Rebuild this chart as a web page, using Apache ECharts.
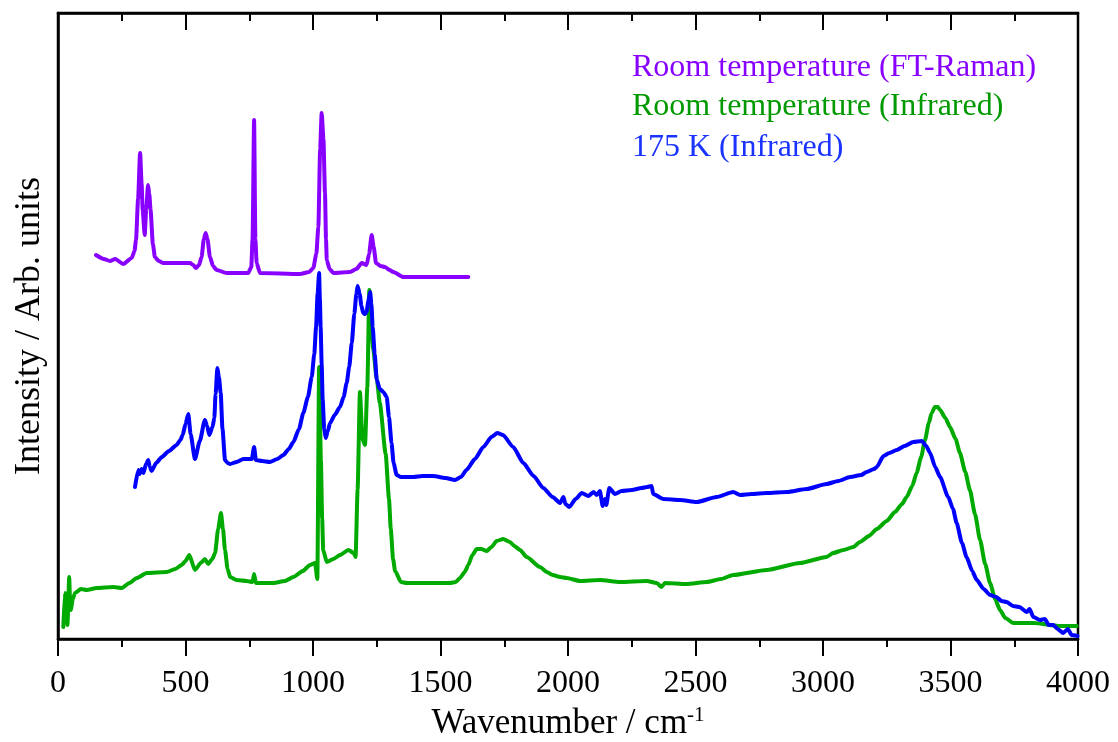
<!DOCTYPE html>
<html>
<head>
<meta charset="utf-8">
<script src="https://cdn.jsdelivr.net/npm/echarts@6/dist/echarts.min.js"></script>
<style>
html, body { margin: 0; padding: 0; background: #fff; }
#main { width: 1118px; height: 742px; }
</style>
</head>
<body>
<div id="main"></div>
<script>
// x ticks
var xTicks = [0, 500, 1000, 1500, 2000, 2500, 3000, 3500, 4000];

// legend texts
var seriesNames = ['Room temperature (FT-Raman)', 'Room temperature (Infrared)', '175 K (Infrared)'];

// [wavenumber, intensity]
var ramanData = [[149,384],[180,380],[204,378],[224,380],[256,375],[289,381],[300,388],[306,399],[314,440],[322,486],[328,455],[332,429],[340,404],[346,430],[353,454],[358,445],[363,429],[372,395],[380,382],[395,378],[413,376],[518,376],[530,374],[541,371],[553,374],[563,382],[572,400],[579,406],[586,400],[596,382],[608,373],[622,369],[661,366],[746,366],[758,372],[763,400],[769,519],[774,400],[779,376],[792,366],[949,365],[985,367],[1001,371],[1013,385],[1021,412],[1028,490],[1034,526],[1041,500],[1047,446],[1051,400],[1054,379],[1065,370],[1080,366],[1145,367],[1170,370],[1191,376],[1210,374],[1220,385],[1230,404],[1238,392],[1247,376],[1265,373],[1282,372],[1300,369],[1315,367],[1354,362],[1609,362]];

var irRoomData = [[21,12],[27,46],[33,20],[37,14],[44,62],[47,40],[50,29],[58,40],[67,46],[90,50],[113,49],[152,51],[217,52],[250,51],[280,56],[309,61],[348,66],[426,67],[460,70],[485,74],[500,78],[515,84],[537,69],[560,76],[576,80],[589,75],[605,80],[616,86],[628,110],[639,126],[647,110],[655,89],[665,70],[675,62],[700,59],[740,58],[763,57],[769,65],[776,56],[844,56],[890,58],[923,62],[960,68],[988,74],[1008,76],[1017,60],[1024,272],[1031,179],[1036,120],[1040,89],[1054,77],[1080,80],[1106,84],[1139,89],[1160,86],[1167,82],[1175,150],[1184,247],[1194,200],[1204,194],[1213,252],[1221,349],[1236,290],[1250,260],[1262,236],[1285,185],[1298,140],[1305,110],[1314,80],[1322,68],[1345,57],[1367,56],[1420,56],[1537,56],[1560,57],[1576,61],[1595,67],[1609,74],[1625,84],[1642,90],[1660,90],[1681,88],[1700,92],[1720,98],[1746,100],[1772,97],[1790,93],[1812,89],[1838,82],[1890,72],[1917,67],[1940,64],[1969,62],[1995,61],[2047,58],[2125,59],[2204,57],[2309,58],[2348,56],[2367,52],[2380,56],[2465,55],[2544,57],[2600,60],[2648,64],[2779,69],[2910,76],[3014,82],[3040,86],[3080,89],[3119,92],[3145,97],[3180,103],[3211,110],[3250,118],[3282,127],[3310,135],[3328,142],[3350,153],[3367,166],[3385,182],[3400,199],[3415,216],[3426,226],[3439,232],[3450,232],[3459,229],[3480,221],[3498,212],[3520,200],[3537,186],[3558,167],[3576,149],[3596,125],[3616,99],[3636,75],[3655,56],[3675,40],[3694,29],[3715,21],[3746,16],[3825,16],[3929,13],[3995,13]];

var ir175Data = [[302,152],[315,169],[320,165],[328,170],[335,166],[345,175],[354,179],[360,172],[367,168],[385,176],[407,182],[435,188],[465,194],[480,199],[489,204],[500,215],[511,225],[520,205],[537,180],[556,198],[576,219],[585,213],[593,204],[606,212],[613,221],[618,245],[625,271],[631,262],[638,246],[645,210],[655,179],[665,176],[675,175],[700,177],[727,180],[760,180],[769,192],[776,179],[800,178],[831,177],[860,180],[884,184],[905,190],[923,197],[945,210],[962,226],[980,242],[995,262],[1005,285],[1012,312],[1018,345],[1024,366],[1027,340],[1030,312],[1034,275],[1038,239],[1044,210],[1050,201],[1058,208],[1067,216],[1085,224],[1106,232],[1120,242],[1132,256],[1142,272],[1152,296],[1162,325],[1170,345],[1175,353],[1183,345],[1190,333],[1197,326],[1204,325],[1210,327],[1217,338],[1224,347],[1229,335],[1234,312],[1242,285],[1250,259],[1262,250],[1276,247],[1289,242],[1298,222],[1308,196],[1316,176],[1328,164],[1345,162],[1393,162],[1430,163],[1471,163],[1520,161],[1557,159],[1580,162],[1602,169],[1635,180],[1668,192],[1700,202],[1723,206],[1745,204],[1785,192],[1825,176],[1865,163],[1903,151],[1940,142],[1969,136],[1982,142],[1990,135],[2005,132],[2030,140],[2054,146],[2080,143],[2100,147],[2113,144],[2125,148],[2136,133],[2145,140],[2150,134],[2162,151],[2184,145],[2210,148],[2250,149],[2289,151],[2310,152],[2328,153],[2334,145],[2374,140],[2439,139],[2505,137],[2583,142],[2648,147],[2675,144],[2720,145],[2779,146],[2858,147],[2936,150],[3014,155],[3060,158],[3106,162],[3150,164],[3171,167],[3200,170],[3211,172],[3237,183],[3260,186],[3289,189],[3320,193],[3354,197],[3387,198],[3405,193],[3420,186],[3440,172],[3459,162],[3491,142],[3510,130],[3524,116],[3545,96],[3563,82],[3585,68],[3603,59],[3630,50],[3655,44],[3680,42],[3700,38],[3720,37],[3745,33],[3770,32],[3799,27],[3810,30],[3825,22],[3851,19],[3870,20],[3885,14],[3903,14],[3920,10],[3942,6],[3960,10],[3975,4],[3998,3]];

var colRaman = '#8800ff', colRoom = '#00aa00', col175 = '#0000ff';
var FONT = '"Liberation Serif", "Times New Roman", serif';

var chart = echarts.init(document.getElementById('main'));

function lineSeries(name, data, color) {
    return {
        name: name,
        type: 'line',
        data: data,
        showSymbol: false,
        symbol: 'none',
        smooth: 0.2,
        smoothMonotone: 'x',
        animation: false,
        lineStyle: { color: color, width: 4, join: 'round', cap: 'round' },
        itemStyle: { color: color }
    };
}

var option = {
    backgroundColor: '#fff',
    animation: false,
    grid: {
        left: 58, right: 40, top: 13, bottom: 103,
        outerBoundsMode: 'none',
        show: true, borderColor: '#000', borderWidth: 2.5, backgroundColor: 'transparent'
    },
    xAxis: [{
        type: 'value',
        position: 'bottom',
        min: xTicks[0],
        max: xTicks[xTicks.length - 1],
        interval: 500,
        name: '{a|Wavenumber / cm}{b|-1}',
        nameLocation: 'middle',
        nameGap: 59,
        nameTextStyle: {
            rich: {
                a: { fontFamily: FONT, fontSize: 35, color: '#000', lineHeight: 38 },
                b: { fontFamily: FONT, fontSize: 21, color: '#000', verticalAlign: 'top', lineHeight: 38, padding: [0, 0, 16, 0] }
            }
        },
        axisLine: { show: true, lineStyle: { color: '#000', width: 2.5 } },
        axisTick: { show: true, inside: false, length: 17, lineStyle: { color: '#000', width: 2 } },
        minorTick: { show: true, splitNumber: 2, length: 8, lineStyle: { color: '#000', width: 2 } },
        axisLabel: {
            fontFamily: FONT, fontSize: 32, color: '#000', margin: 29,
            formatter: function (v) { return String(v); }
        },
        splitLine: { show: false }
    }, {
        type: 'value',
        position: 'top',
        min: xTicks[0],
        max: xTicks[xTicks.length - 1],
        interval: 500,
        axisLine: { show: true, lineStyle: { color: '#000', width: 2.5 } },
        axisTick: { show: true, inside: true, length: 17, lineStyle: { color: '#000', width: 2 } },
        minorTick: { show: true, splitNumber: 2, length: 8, lineStyle: { color: '#000', width: 2 } },
        axisLabel: { show: false },
        splitLine: { show: false }
    }],
    yAxis: {
        type: 'value',
        min: 0,
        max: 626,
        name: 'Intensity / Arb. units',
        nameLocation: 'middle',
        nameRotate: 90,
        nameGap: 10,
        nameTextStyle: { fontFamily: FONT, fontSize: 36, color: '#000' },
        axisLine: { show: true, lineStyle: { color: '#000', width: 2.5 } },
        axisTick: { show: false },
        axisLabel: { show: false },
        splitLine: { show: false }
    },
    graphic: [
        { type: 'text', left: 632, top: 52, style: { text: seriesNames[0], fill: colRaman, font: '32px ' + FONT } },
        { type: 'text', left: 632, top: 91, style: { text: seriesNames[1], fill: '#009900', font: '32px ' + FONT } },
        { type: 'text', left: 632, top: 132, style: { text: seriesNames[2], fill: '#1a33ff', font: '32px ' + FONT } }
    ],
    series: [
        lineSeries(seriesNames[0], ramanData, colRaman),
        lineSeries(seriesNames[1], irRoomData, colRoom),
        lineSeries(seriesNames[2], ir175Data, col175)
    ]
};

chart.setOption(option);

window.onresize = function () {
    chart.resize();
};
</script>
</body>
</html>
